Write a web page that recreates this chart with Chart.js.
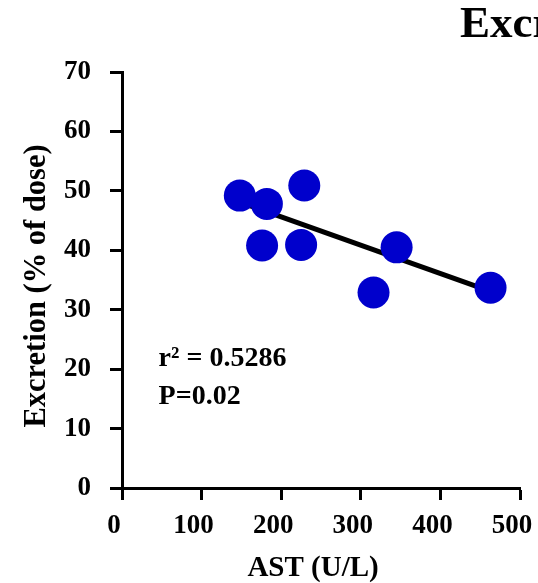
<!DOCTYPE html>
<html>
<head>
<meta charset="utf-8">
<script src="https://cdn.jsdelivr.net/npm/chart.js@4/dist/chart.umd.min.js"></script>
<style>
  html, body { margin: 0; padding: 0; background: #fff; overflow: hidden; }
  #wrap { position: relative; width: 538px; height: 583px; }
</style>
</head>
<body>
<div id="wrap"><canvas id="c"></canvas></div>
<script>
// ---- data ----
const astValues = [148, 182, 229, 176, 225, 345, 316, 463];
const excretionValues = [49.2, 47.8, 50.9, 40.8, 40.9, 40.5, 32.9, 33.7];
const fitX = [148, 463];
const fitY = [48.1, 33.1];
const xTickValues = [0, 100, 200, 300, 400, 500];
const yTickValues = [0, 10, 20, 30, 40, 50, 60, 70];
const titleText = 'Excretion';
const xTitle = 'AST (U/L)';
const yTitle = 'Excretion (% of dose)';
const annotationLines = ['r\u00B2 = 0.5286', 'P=0.02'];

const SERIF = '"Liberation Serif", "Times New Roman", serif';

const points = astValues.map((x, i) => ({ x: x, y: excretionValues[i] }));
const fitPoints = fitX.map((x, i) => ({ x: x, y: fitY[i] }));

const textPlugin = {
  id: 'texts',
  afterDraw(chart) {
    const ctx = chart.ctx;
    const xs = chart.scales.x, ys = chart.scales.y;
    ctx.save();
    ctx.fillStyle = '#000';
    ctx.textBaseline = 'alphabetic';
    // chart title (runs off the right edge, as in the original)
    ctx.textAlign = 'left';
    ctx.font = 'bold 45px ' + SERIF;
    ctx.fillText(titleText, 460, 37);
    // r² and P annotations
    ctx.font = 'bold 28px ' + SERIF;
    const ax = xs.getPixelForValue(46);
    ctx.fillText(annotationLines[0], ax, ys.getPixelForValue(20.5));
    ctx.fillText(annotationLines[1], ax, ys.getPixelForValue(14.1));
    // x axis title
    ctx.textAlign = 'center';
    ctx.font = 'bold 29px ' + SERIF;
    ctx.fillText(xTitle, xs.getPixelForValue(240), 576);
    // y axis title
    ctx.font = 'bold 30.5px ' + SERIF;
    ctx.translate(44.5, ys.getPixelForValue(34));
    ctx.rotate(-Math.PI / 2);
    ctx.fillText(yTitle, 0, 0);
    ctx.restore();
  }
};

const axisCommon = {
  border: { display: true, color: '#000', width: 3 },
  grid: { display: true, drawOnChartArea: false, drawTicks: true, tickLength: 12, tickWidth: 3, tickColor: '#000' }
};

new Chart(document.getElementById('c'), {
  type: 'scatter',
  data: {
    datasets: [
      {
        label: 'data',
        data: points,
        backgroundColor: '#0000CC',
        borderWidth: 0,
        pointRadius: 16,
        pointHoverRadius: 16,
        order: 1
      },
      {
        type: 'line',
        label: 'fit',
        data: fitPoints,
        borderColor: '#000',
        borderWidth: 5,
        pointRadius: 0,
        fill: false,
        order: 2
      }
    ]
  },
  options: {
    responsive: true,
    maintainAspectRatio: false,
    animation: false,
    events: [],
    layout: { padding: { top: 72, right: 18, left: 0, bottom: 0 } },
    plugins: { legend: { display: false }, tooltip: { enabled: false }, title: { display: false } },
    scales: {
      x: Object.assign({}, axisCommon, {
        type: 'linear',
        min: 0, max: 500,
        afterBuildTicks(s) { s.ticks = xTickValues.map(v => ({ value: v })); },
        afterFit(s) { s.height = 95; s.paddingLeft = 0; s.paddingRight = 0; },
        ticks: {
          color: '#000',
          font: { family: SERIF, size: 27, weight: 'bold' },
          padding: 10,
          labelOffset: -8,
          maxRotation: 0,
          autoSkip: false
        },
        title: { display: false, text: xTitle }
      }),
      y: Object.assign({}, axisCommon, {
        type: 'linear',
        min: 0, max: 70,
        afterBuildTicks(s) { s.ticks = yTickValues.map(v => ({ value: v })); },
        afterFit(s) { s.width = 122; s.paddingTop = 0; s.paddingBottom = 0; },
        ticks: {
          color: '#000',
          font: { family: SERIF, size: 27, weight: 'bold' },
          padding: 19,
          autoSkip: false
        },
        title: { display: false, text: yTitle }
      })
    }
  },
  plugins: [textPlugin]
});
</script>
</body>
</html>
